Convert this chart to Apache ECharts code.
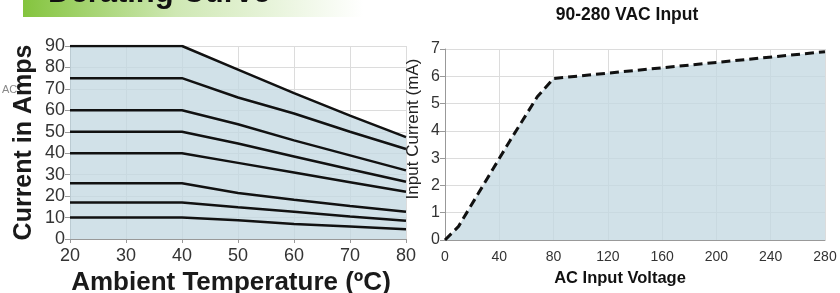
<!DOCTYPE html>
<html>
<head>
<meta charset="utf-8">
<script src="https://cdn.jsdelivr.net/npm/echarts@6/dist/echarts.min.js"></script>
<style>
  html, body { margin: 0; padding: 0; background: #fff; }
  #chart { width: 840px; height: 293px; }
</style>
</head>
<body>
<div id="chart"></div>
<script>
// derating curve (left): current in amps vs ambient temperature
const tempX = [20, 40, 50, 60, 70, 80];
const curve90 = [90, 90, 79, 68, 57.5, 47.5];
const curve75 = [75, 75, 66, 58.5, 50, 42];
const curve60 = [60, 60, 53.5, 46, 39, 32];
const curve50 = [50, 50, 44.5, 38.5, 32.5, 26.7];
const curve40 = [40, 40, 35.5, 31, 26.5, 22];
const curve26 = [26, 26, 21.5, 18.3, 15.4, 12.7];
const curve17 = [17, 17, 14.8, 12.7, 10.5, 8.5];
const curve10 = [10, 10, 8.8, 7, 5.8, 4.5];

// input current (right): mA vs AC input voltage
const voltX = [0, 10, 48, 68, 80, 280];
const currentMA = [0, 0.5, 3.65, 5.25, 5.92, 6.9];

const FONT = 'Liberation Sans, Arial, sans-serif';
const FILL = 'rgba(196, 216, 226, 0.78)';
const GRID_LINE = '#dcdcdc';

function pairs(xs, ys) {
    return xs.map((x, i) => [x, ys[i]]);
}

const deratingCurves = [curve90, curve75, curve60, curve50, curve40, curve26, curve17, curve10];

const deratingSeries = deratingCurves.map((c, i) => ({
    type: 'line',
    xAxisIndex: 0,
    yAxisIndex: 0,
    data: pairs(tempX, c),
    symbol: 'none',
    lineStyle: { color: '#111', width: 2.5 },
    areaStyle: i === 0 ? { color: FILL, opacity: 1 } : undefined,
    z: 3,
    animation: false
}));

const chart = echarts.init(document.getElementById('chart'), null, { renderer: 'canvas' });

chart.setOption({
    backgroundColor: '#fff',
    animation: false,
    graphic: [
        {
            type: 'rect',
            shape: { x: 23, y: -10, width: 340, height: 27 },
            style: {
                fill: new echarts.graphic.LinearGradient(0, 0, 1, 0, [
                    { offset: 0, color: '#84c43e' },
                    { offset: 0.45, color: '#cfe8b4' },
                    { offset: 1, color: '#ffffff' }
                ])
            },
            z: 0
        },
        {
            type: 'text',
            style: {
                text: 'Derating Curve',
                x: 48, y: 9,
                textVerticalAlign: 'bottom',
                font: 'bold 31px ' + FONT,
                fill: '#111'
            },
            z: 1
        },
        {
            type: 'text',
            style: {
                text: 'AC',
                x: 2, y: 90,
                textVerticalAlign: 'middle',
                font: '11px ' + FONT,
                fill: '#888'
            }
        },
        {
            type: 'text',
            style: {
                text: '90-280 VAC Input',
                x: 627, y: 15,
                textAlign: 'center',
                textVerticalAlign: 'middle',
                font: 'bold 17.5px ' + FONT,
                fill: '#111'
            }
        },
        {
            type: 'text',
            x: 413, y: 129,
            rotation: Math.PI / 2,
            style: {
                text: 'Input Current (mA)',
                x: 0, y: 0,
                textAlign: 'center',
                textVerticalAlign: 'middle',
                font: '17px ' + FONT,
                fill: '#222'
            },
            z: 5
        },
        {
            type: 'text',
            style: {
                text: 'AC Input Voltage',
                x: 620, y: 278,
                textAlign: 'center',
                textVerticalAlign: 'middle',
                font: 'bold 16.5px ' + FONT,
                fill: '#111'
            }
        }
    ],
    grid: [
        { left: 70, right: 434, top: 46, bottom: 54, outerBoundsMode: 'none', containLabel: false },
        { left: 445, right: 15, top: 49, bottom: 53, outerBoundsMode: 'none', containLabel: false }
    ],
    xAxis: [
        {
            type: 'value', gridIndex: 0,
            min: 20, max: 80, interval: 10,
            name: 'Ambient Temperature (ºC)',
            nameLocation: 'middle',
            nameGap: 25,
            nameTextStyle: { fontFamily: FONT, fontWeight: 'bold', fontSize: 26, color: '#1a1a1a', padding: [0, 14, 0, 0] },
            axisLine: { lineStyle: { color: '#999', width: 1 } },
            axisTick: { show: true, length: 4, lineStyle: { color: '#999' } },
            axisLabel: { fontFamily: FONT, fontSize: 18, color: '#333', margin: 8 },
            splitLine: { show: true, lineStyle: { color: GRID_LINE } }
        },
        {
            type: 'value', gridIndex: 1,
            min: 0, max: 280, interval: 40,
            axisLine: { lineStyle: { color: '#999', width: 1 } },
            axisTick: { show: false },
            axisLabel: { fontFamily: FONT, fontSize: 14, color: '#333', margin: 10 },
            splitLine: { show: true, lineStyle: { color: GRID_LINE } }
        }
    ],
    yAxis: [
        {
            type: 'value', gridIndex: 0,
            min: 0, max: 90, interval: 10,
            name: 'Current in Amps',
            nameLocation: 'middle',
            nameGap: 33,
            nameTextStyle: { fontFamily: FONT, fontWeight: 'bold', fontSize: 25, color: '#1a1a1a' },
            axisLine: { show: true, lineStyle: { color: '#999', width: 1 } },
            axisTick: { show: true, length: 5, lineStyle: { color: '#999' } },
            axisLabel: { fontFamily: FONT, fontSize: 18, color: '#333', margin: 5 },
            splitLine: { show: true, lineStyle: { color: GRID_LINE } }
        },
        {
            type: 'value', gridIndex: 1,
            min: 0, max: 7, interval: 1,
            axisLine: { show: true, lineStyle: { color: '#999', width: 1 } },
            axisTick: { show: true, length: 5, lineStyle: { color: '#999' } },
            axisLabel: { fontFamily: FONT, fontSize: 16, color: '#333', margin: 5 },
            splitLine: { show: true, lineStyle: { color: GRID_LINE } }
        }
    ],
    series: deratingSeries.concat([
        {
            type: 'line',
            xAxisIndex: 1,
            yAxisIndex: 1,
            data: pairs(voltX, currentMA),
            symbol: 'none',
            lineStyle: { color: '#111', width: 3, type: [9, 5] },
            areaStyle: { color: FILL, opacity: 1 },
            z: 3,
            animation: false
        }
    ])
});
</script>
</body>
</html>
